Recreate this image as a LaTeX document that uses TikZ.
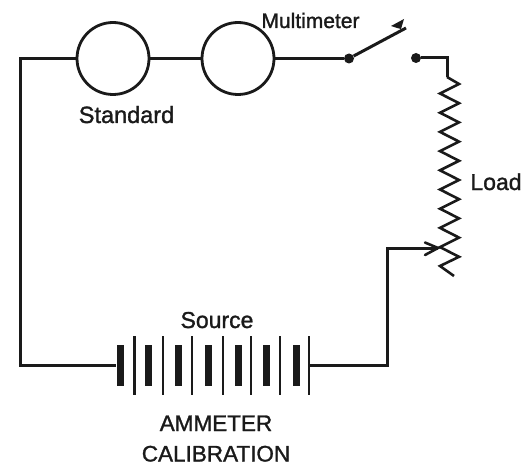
\documentclass[tikz,border=0pt]{standalone}
\usepackage{fontspec}
\setmainfont[FakeBold=1.3]{Liberation Sans}
\usetikzlibrary{arrows.meta}
\definecolor{ink}{HTML}{1A1A1A}
\tikzset{
  wire/.style={draw=ink,line width=3pt,line join=miter},
  meter/.style={circle,draw=ink,line width=2.8pt,minimum size=72pt,inner sep=0pt,fill=white},
  contact/.style={circle,fill=ink,minimum size=10pt,inner sep=0pt},
  thickplate/.style={rectangle,fill=ink,minimum width=7pt,minimum height=41pt,inner sep=0pt},
  thinplate/.style={rectangle,fill=ink,minimum width=2.4pt,minimum height=59pt,inner sep=0pt},
  lbl/.style={text=ink,anchor=base,inner sep=0pt,font=\fontsize{22.5}{26}\selectfont},
}
\begin{document}
\begin{tikzpicture}[x=1pt,y=-1pt]
\useasboundingbox (0,0) rectangle (526,465);
% meters
\node[meter] (std) at (113,58.5) {};
\node[meter] (mm) at (238,58.5) {};
% contacts
\node[contact] (c1) at (349,58.5) {};
\node[contact] (c2) at (416,58) {};
% battery
\foreach \n/\x in {a/120,b/148,c/178,d/208,e/238,f/266,g/296}
  \node[thickplate] (t\n) at (\x,365.5) {};
\foreach \n/\x in {a/134.5,b/163,c/192,d/223,e/251,f/280,g/309}
  \node[thinplate] (p\n) at (\x,365.5) {};
% free corners
\coordinate (tl) at (20,58.5);
\coordinate (bl) at (20,365.5);
\coordinate (br) at (387,365.5);
\coordinate (wt) at (387,248);
\coordinate (tap) at (438,248);
\coordinate (blade) at (406,28);
\coordinate (rt) at (447,58);
\coordinate (r0) at (447,77);
% wires
\draw[wire] (std.west) -- (tl) -- (bl) -- (ta.west);
\draw[wire] (std.east) -- (mm.west);
\draw[wire] (mm.east) -- (c1);
\draw[wire] (c1) -- (blade);
\draw[wire] (c2) -- (rt) -- (r0);
\draw[wire] (pg.east) -- (br) -- (wt) -- (tap);
% barb on switch blade
\fill[ink] (391,26) -- (404,19) -- (401,29) -- (397,28) -- cycle;
% arrow head of the slider
\draw[wire,line width=2.6pt,line cap=round] (425,242.5) -- (438,248) -- (425,255);
% resistor
\draw[wire,line width=2.6pt,line join=miter] (r0) -- (459,84)
  \foreach \k in {0,...,8}{ -- ({440},{93.5+19.2*\k}) -- ({459},{103.2+19.2*\k}) }
  -- (440,266) -- (454,276);
% labels
\node[lbl,font=\fontsize{23.5}{27}\selectfont] (lstd) at (126.5,123) {Standard};
\node[lbl,font=\fontsize{21}{25}\selectfont] (lmm) at (310.5,28) {Multimeter};
\node[lbl,font=\fontsize{23}{27}\selectfont] (lsrc) at (217,328) {Source};
\node[lbl,font=\fontsize{23}{27}\selectfont] (lload) at (496,190) {Load};
\node[lbl] (l1) at (216,431) {AMMETER};
\node[lbl] (l2) at (216,461.5) {CALIBRATION};
\end{tikzpicture}
\end{document}
